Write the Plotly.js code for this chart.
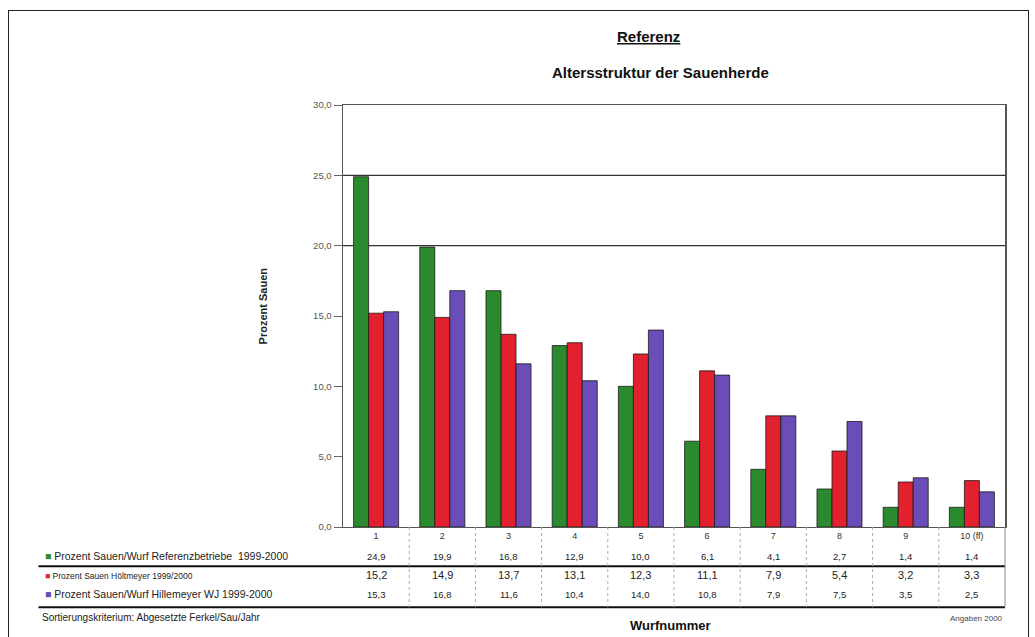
<!DOCTYPE html>
<html>
<head>
<meta charset="utf-8">
<script src="https://cdn.plot.ly/plotly-3.0.1.min.js"></script>
<style>
  html, body { margin: 0; padding: 0; background: #ffffff; }
  #frame { position: absolute; left: 8px; top: 10px; width: 1021px; height: 640px; border: 1px solid #222; border-bottom: none; box-sizing: border-box; pointer-events: none; z-index: 5; }
  #chart { position: absolute; left: 0; top: 0; width: 1035px; height: 637px; }
</style>
</head>
<body>
<div id="chart"></div>
<div id="frame"></div>
<script>
// ---- data ----
const categories = ["1", "2", "3", "4", "5", "6", "7", "8", "9", "10 (ff)"];
const seriesNames = [
  "Prozent Sauen/Wurf Referenzbetriebe  1999-2000",
  "Prozent Sauen Höltmeyer 1999/2000",
  "Prozent Sauen/Wurf Hillemeyer WJ 1999-2000"
];
const referenzbetriebe = [24.9, 19.9, 16.8, 12.9, 10.0, 6.1, 4.1, 2.7, 1.4, 1.4];
const hoeltmeyer       = [15.2, 14.9, 13.7, 13.1, 12.3, 11.1, 7.9, 5.4, 3.2, 3.3];
const hillemeyer       = [15.3, 16.8, 11.6, 10.4, 14.0, 10.8, 7.9, 7.5, 3.5, 2.5];
const seriesValues = [referenzbetriebe, hoeltmeyer, hillemeyer];
const yTickValues = [0, 5, 10, 15, 20, 25, 30];
const gridLevels = [20, 25];

const titleMain = "Referenz";
const titleSub = "Altersstruktur der Sauenherde";
const yTitle = "Prozent Sauen";
const xTitle = "Wurfnummer";
const footLeft = "Sortierungskriterium: Abgesetzte Ferkel/Sau/Jahr";
const footRight = "Angaben 2000";

// ---- styling ----
const colors = ["#2c8a2e", "#e2202e", "#6a4db6"];
const FONT = "Liberation Sans, Arial, sans-serif";
const fmt = v => v.toFixed(1).replace(".", ",");

const traces = seriesValues.map((vals, i) => ({
  type: "bar",
  x: categories,
  y: vals,
  name: seriesNames[i],
  marker: { color: colors[i], line: { color: "#1a1a1a", width: 0.8 } },
  hoverinfo: "x+y"
}));

// table rows below the plot (paper y)
const rowY = [-0.069, -0.114, -0.159];
const SHIFT = -8;
const valueSize = [9.5, 11, 9.5];
const nameSize = [10.5, 8.5, 10.5];
const annotations = [];
seriesValues.forEach((vals, r) => {
  vals.forEach((v, c) => {
    annotations.push({
      x: c, y: rowY[r], xref: "x", yref: "paper", yshift: SHIFT,
      text: fmt(v), showarrow: false,
      font: { family: FONT, size: valueSize[r], color: "#222" }
    });
  });
  annotations.push({
    x: -0.453, y: rowY[r], xref: "paper", yref: "paper", xanchor: "left", yshift: SHIFT,
    text: '<span style="color:' + colors[r] + '">■</span> ' + seriesNames[r],
    showarrow: false,
    font: { family: FONT, size: nameSize[r], color: "#222" }
  });
});

annotations.push(
  { x: 0.461, y: 1.188, xref: "paper", yref: "paper", text: "<b><u>" + titleMain + "</u></b>", showarrow: false,
    font: { family: FONT, size: 15, color: "#111" } },
  { x: 0.480, y: 1.103, xref: "paper", yref: "paper", text: "<b>" + titleSub + "</b>", showarrow: false,
    font: { family: FONT, size: 15, color: "#111" } },
  { x: -0.133, y: 0.525, xref: "paper", yref: "paper", text: "<b>" + yTitle + "</b>", showarrow: false, textangle: -90,
    font: { family: FONT, size: 11, color: "#222" } },
  { x: 0.495, y: -0.232, xref: "paper", yref: "paper", yshift: -10, text: "<b>" + xTitle + "</b>", showarrow: false,
    font: { family: FONT, size: 13, color: "#111" } },
  { x: -0.458, y: -0.214, xref: "paper", yref: "paper", xanchor: "left", yshift: SHIFT, text: footLeft, showarrow: false,
    font: { family: FONT, size: 10, color: "#222" } },
  { x: 1.0, y: -0.214, xref: "paper", yref: "paper", xanchor: "right", yshift: SHIFT, text: footRight, showarrow: false,
    font: { family: FONT, size: 8, color: "#444" } }
);

const shapes = [];
gridLevels.forEach(g => shapes.push({
  type: "line", xref: "paper", yref: "y", x0: 0, x1: 1, y0: g, y1: g,
  line: { color: "#333", width: 1.3 }, layer: "below"
}));
// table horizontal rules
[-0.093, -0.19].forEach(yy => shapes.push({
  type: "line", xref: "paper", yref: "paper", x0: -0.46, x1: 1, y0: yy, y1: yy,
  line: { color: "#111", width: 2 }
}));
// table column separators
categories.forEach((c, i) => {
  if (i === 0) return;
  shapes.push({
    type: "line", xref: "x", yref: "paper", x0: i - 0.5, x1: i - 0.5, y0: 0, y1: -0.19,
    line: { color: "#aaa", width: 1, dash: "dot" }
  });
});
shapes.push({
  type: "line", xref: "paper", yref: "paper", x0: 1, x1: 1, y0: 0, y1: -0.19,
  line: { color: "#888", width: 1 }
});

const layout = {
  width: 1035, height: 637,
  margin: { l: 343, r: 30, t: 105, b: 110 },
  paper_bgcolor: "#ffffff", plot_bgcolor: "#ffffff",
  separators: ",.",
  barmode: "group", bargap: 0.32, bargroupgap: 0,
  showlegend: false,
  xaxis: {
    type: "category", showgrid: false, showline: true, linecolor: "#555", linewidth: 1, mirror: true,
    ticks: "", tickfont: { family: FONT, size: 9, color: "#333" }, zeroline: false
  },
  yaxis: {
    range: [0, 30], tickvals: yTickValues, tickformat: ".1f", showgrid: false,
    showline: true, linecolor: "#555", linewidth: 1.5, mirror: true, ticks: "outside", ticklen: 8, tickcolor: "#666",
    tickfont: { family: FONT, size: 9.5, color: "#555" }, zeroline: false
  },
  annotations: annotations,
  shapes: shapes
};

Plotly.newPlot("chart", traces, layout, { displayModeBar: false, staticPlot: true });
</script>
</body>
</html>
